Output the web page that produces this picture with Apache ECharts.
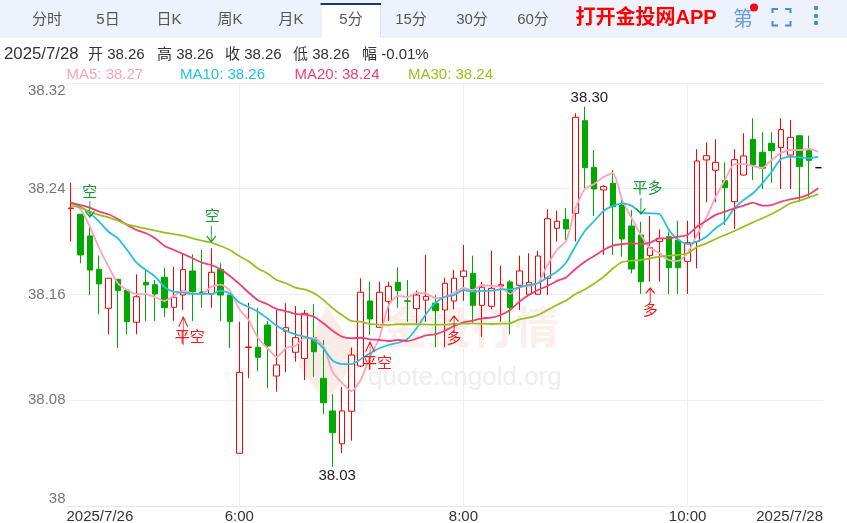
<!DOCTYPE html>
<html><head><meta charset="utf-8">
<style>html,body{margin:0;padding:0;background:#fff}#c{width:847px;height:523px}</style>
<script src="https://cdn.jsdelivr.net/npm/echarts@6/dist/echarts.min.js"></script>
</head><body><div id="c"></div>
<script>
const startHour = 4.5;
const opens = [38.2250,38.2207,38.2043,38.1791,38.1496,38.1715,38.1634,38.1390,38.1692,38.1674,38.1730,38.1503,38.1596,38.1778,38.1619,38.1604,38.1791,38.1596,38.0399,38.1199,38.1201,38.1369,38.0983,38.1322,38.1163,38.1117,38.1273,38.0966,38.0719,38.0471,38.0717,38.1059,38.1551,38.1352,38.1549,38.1692,38.1552,38.1493,38.1558,38.1534,38.1483,38.1551,38.1735,38.1760,38.1518,38.1511,38.1664,38.1695,38.1670,38.1602,38.1602,38.1723,38.2101,38.2169,38.2214,38.2915,38.2562,38.2391,38.2441,38.2277,38.2118,38.2050,38.1894,38.2000,38.2037,38.2012,38.1851,38.2000,38.2618,38.2540,38.2461,38.2302,38.2504,38.2774,38.2676,38.2744,38.2711,38.2655,38.2801,38.2688,38.2559];
const closes = [38.2254,38.1899,38.1785,38.1680,38.1723,38.1629,38.1394,38.1583,38.1672,38.1604,38.1500,38.1579,38.1788,38.1621,38.1608,38.1768,38.1596,38.1394,38.1011,38.1203,38.1125,38.1211,38.1067,38.1349,38.1273,38.1458,38.1167,38.0781,38.0554,38.0719,38.1142,38.1617,38.1415,38.1617,38.1662,38.1629,38.1549,38.1596,38.1586,38.1478,38.1685,38.1723,38.1778,38.1518,38.1655,38.1647,38.1674,38.1500,38.1778,38.1692,38.1891,38.2173,38.2154,38.2096,38.2941,38.2559,38.2398,38.2416,38.2264,38.2020,38.1793,38.1697,38.1954,38.2025,38.1803,38.1803,38.1992,38.2610,38.2650,38.2600,38.2408,38.2620,38.2648,38.2580,38.2555,38.2688,38.2847,38.2789,38.2567,38.2615,38.2559];
const lows = [38.2000,38.1836,38.1596,38.1450,38.1299,38.1195,38.1299,38.1299,38.1400,38.1400,38.1430,38.1400,38.1483,38.1400,38.1500,38.1500,38.1400,38.1195,38.0397,38.0966,38.1019,38.0890,38.0865,38.1012,38.1092,38.0953,38.0978,38.0696,38.0297,38.0399,38.0494,38.1052,38.1294,38.1347,38.1400,38.1500,38.1394,38.1377,38.1394,38.1201,38.1201,38.1488,38.1553,38.1387,38.1281,38.1488,38.1394,38.1299,38.1483,38.1596,38.1596,38.1596,38.2000,38.2012,38.2000,38.2403,38.2194,38.1899,38.1899,38.1886,38.1760,38.1604,38.1697,38.1697,38.1604,38.1604,38.1604,38.1798,38.2298,38.2298,38.2126,38.2096,38.2500,38.2466,38.2396,38.2446,38.2398,38.2398,38.2302,38.2328,38.2559];
const highs = [38.2446,38.2209,38.2126,38.1894,38.1725,38.1717,38.1634,38.1753,38.1793,38.1710,38.1803,38.1810,38.1912,38.1904,38.1937,38.1950,38.1836,38.1596,38.1394,38.1538,38.1496,38.1400,38.1490,38.1534,38.1513,38.1483,38.1526,38.1256,38.0845,38.0900,38.1198,38.1723,38.1697,38.1697,38.1697,38.1806,38.1710,38.1629,38.1899,38.1596,38.1727,38.1785,38.1975,38.1894,38.1697,38.1931,38.1818,38.1710,38.1894,38.1912,38.1931,38.2245,38.2234,38.2254,38.2971,38.3021,38.2693,38.2428,38.2542,38.2315,38.2239,38.2151,38.2194,38.2093,38.2075,38.2158,38.2158,38.2699,38.2751,38.2774,38.2600,38.2699,38.2820,38.2933,38.2827,38.2827,38.2933,38.2920,38.2807,38.2801,38.2559];
const ma5 = [38.2298,38.2245,38.2113,38.1950,38.1810,38.1685,38.1634,38.1602,38.1602,38.1579,38.1551,38.1589,38.1627,38.1609,38.1604,38.1659,38.1674,38.1629,38.1490,38.1407,38.1271,38.1195,38.1127,38.1195,38.1211,38.1271,38.1271,38.1211,38.1014,38.0931,38.0870,38.0953,38.1127,38.1271,38.1521,38.1589,38.1581,38.1612,38.1608,38.1574,38.1581,38.1612,38.1649,38.1634,38.1672,38.1664,38.1657,38.1604,38.1657,38.1664,38.1687,38.1823,38.1937,38.2005,38.2254,38.2398,38.2436,38.2489,38.2519,38.2315,38.2179,38.2050,38.1952,38.1914,38.1861,38.1854,38.1914,38.2050,38.2179,38.2338,38.2466,38.2587,38.2587,38.2572,38.2557,38.2618,38.2671,38.2693,38.2693,38.2701,38.2678];
const ma10 = [38.2298,38.2264,38.2214,38.2151,38.2075,38.2025,38.1937,38.1841,38.1785,38.1735,38.1655,38.1621,38.1614,38.1604,38.1604,38.1604,38.1629,38.1608,38.1540,38.1506,38.1470,38.1420,38.1364,38.1326,38.1299,38.1281,38.1256,38.1193,38.1099,38.1074,38.1074,38.1110,38.1155,38.1193,38.1218,38.1235,38.1263,38.1347,38.1453,38.1536,38.1583,38.1596,38.1634,38.1621,38.1627,38.1629,38.1639,38.1639,38.1655,38.1672,38.1685,38.1730,38.1773,38.1842,38.1967,38.2080,38.2156,38.2232,38.2270,38.2290,38.2272,38.2219,38.2214,38.2209,38.2088,38.2012,38.1982,38.2000,38.2037,38.2101,38.2151,38.2252,38.2315,38.2366,38.2441,38.2529,38.2625,38.2643,38.2638,38.2630,38.2643];
const ma20 = [38.2290,38.2277,38.2257,38.2227,38.2207,38.2171,38.2126,38.2088,38.2063,38.2025,38.1967,38.1937,38.1906,38.1874,38.1841,38.1823,38.1791,38.1740,38.1680,38.1615,38.1556,38.1526,38.1490,38.1475,38.1453,38.1447,38.1432,38.1382,38.1326,38.1281,38.1269,38.1273,38.1261,38.1256,38.1248,38.1256,38.1248,38.1266,38.1290,38.1299,38.1326,38.1362,38.1390,38.1402,38.1420,38.1425,38.1445,38.1483,38.1546,38.1596,38.1634,38.1664,38.1702,38.1729,38.1793,38.1848,38.1891,38.1937,38.1969,38.1982,38.1987,38.1982,38.1992,38.2025,38.2025,38.2037,38.2050,38.2113,38.2158,38.2202,38.2227,38.2252,38.2272,38.2295,38.2272,38.2277,38.2302,38.2320,38.2332,38.2358,38.2403];
const ma30 = [38.2270,38.2257,38.2227,38.2202,38.2184,38.2158,38.2131,38.2113,38.2098,38.2083,38.2068,38.2056,38.2045,38.2025,38.2007,38.1992,38.1967,38.1937,38.1891,38.1851,38.1797,38.1760,38.1710,38.1685,38.1652,38.1639,38.1609,38.1559,38.1496,38.1445,38.1400,38.1394,38.1377,38.1372,38.1369,38.1375,38.1375,38.1375,38.1373,38.1372,38.1372,38.1377,38.1379,38.1382,38.1379,38.1377,38.1379,38.1382,38.1412,38.1425,38.1445,38.1483,38.1521,38.1555,38.1604,38.1638,38.1683,38.1733,38.1797,38.1846,38.1856,38.1861,38.1874,38.1886,38.1894,38.1899,38.1912,38.1959,38.1987,38.2020,38.2050,38.2080,38.2113,38.2146,38.2177,38.2209,38.2247,38.2290,38.2310,38.2335,38.2360];
const yTicks = ['38','38.08','38.16','38.24','38.32'];
const timeTicks = ['6:00','8:00','10:00'];
const dateTicks = ['2025/7/26','2025/7/28'];
const tabs = ['分时','5日','日K','周K','月K','5分','15分','30分','60分'];
const tabX = [47,108,169,230,291,351,411,472,533];
const infoTexts = ['2025/7/28','开 38.26','高 38.26','收 38.26','低 38.26','幅 -0.01%'];
const infoX = [4,88,157,225,293,362];
const maNames = ['MA5','MA10','MA20','MA30'];
const maLatest = ['38.27','38.26','38.24','38.24'];
const maColors = ['#ffa2bc','#27c0df','#ee3f78','#9cbf1f'];
const maLegendX = [66.5,180,294.5,408];
const RED = '#ff0000', GREEN = '#00a800', SIG_GREEN = '#149a2e', SIG_RED = '#f01818';
/* signal annotations: bar index, price at arrow centre, text */
const sigIdx   = [2,15,12,32,41,61,62];
const sigPrice = [38.2247,38.2060,38.1324,38.1135,38.1377,38.2270,38.1592];
const sigText  = ['空','空','平空','平空','多','平多','多'];
const sigDir   = ['d','d','u','u','u','d','u'];
const extIdx = [55,28], extPrice = [38.3021,38.0297], extText = ['38.30','38.03'];

const FONT = '"Liberation Sans","Noto Sans CJK SC",sans-serif';
const categories = opens.map((_, i) => {
  const t = startHour*60 + 5*i, h = Math.floor(t/60), m = t%60;
  return h + ':' + String(m).padStart(2,'0');
});
const candles = opens.map((o,i)=>[o,closes[i],lows[i],highs[i]]);

const arrowDown = 'path://M5 0L5 20M0 13L5 20L10 13';
const arrowUp   = 'path://M5 20L5 0M0 7L5 0L10 7';
const sigOffsets = [[0,-16.5],[1,-16.5],[6.5,7],[7,8],[0,15],[6.5,-17],[0,15.5]];
const sigSize = [[9,16],[9,16],[9,28],[9,28],[9,16],[9,16],[9,15]];
const markData = sigIdx.map((ix,k)=>{
  const col = sigDir[k]==='d' ? SIG_GREEN : SIG_RED;
  return {
    coord:[categories[ix],sigPrice[k]],
    symbol: sigDir[k]==='d'?arrowDown:arrowUp,
    symbolSize: sigSize[k],
    itemStyle:{color:'transparent',borderColor:col,borderWidth:1.2},
    label:{show:true,formatter:sigText[k],position:'inside',offset:sigOffsets[k],color:col,fontSize:15,fontFamily:FONT}
  };
}).concat(extIdx.map((ix,k)=>({
  coord:[categories[ix],extPrice[k]],
  symbol:'circle',symbolSize:1,
  itemStyle:{color:'transparent'},
  label:{show:true,formatter:extText[k],position:'inside',offset:[4.5,k===0?-9:9.5],color:'#222',fontSize:15,fontFamily:FONT}
})));

function T(x,y,text,fill,font,align,z){
  return {type:'text',x,y,z:z||5,silent:true,style:{text,fill,font:font||('15px '+FONT),textAlign:align||'left',textVerticalAlign:'middle'}};
}
const graphics = [
  {type:'rect',z:3,silent:true,shape:{x:0,y:0,width:847,height:36.5},style:{fill:'#edf2fc'}},
  {type:'rect',z:3,silent:true,shape:{x:0,y:36.5,width:847,height:1},style:{fill:'#dbe3f2'}},
  {type:'rect',z:4,silent:true,shape:{x:320.5,y:3,width:60.5,height:35},style:{fill:'#fff'}},
  {type:'rect',z:4,silent:true,shape:{x:320.5,y:3,width:60.5,height:2},style:{fill:'#16348c'}},
  {type:'rect',z:4,silent:true,shape:{x:320.5,y:5,width:1,height:32},style:{fill:'#dbe3f2'}},
  {type:'rect',z:4,silent:true,shape:{x:380,y:5,width:1,height:32},style:{fill:'#dbe3f2'}},
];
tabs.forEach((t,i)=>graphics.push(T(tabX[i],20,t,'#555','15px '+FONT,'center')));
graphics.push(T(575.5,18,'打开金投网APP','#ff0000','bold 20px '+FONT));
graphics.push(T(743,18,'第','#6e9bd6','20px "Noto Sans CJK SC"','center'));
graphics.push({type:'circle',z:6,silent:true,shape:{cx:754,cy:7.5,r:4},style:{fill:'#f00a14'}});
const bc='#4a8bdc';
[[[772.5,13],[772.5,9],[778,9]],[[785,9],[790.5,9],[790.5,13]],[[772.5,21],[772.5,25.5],[778,25.5]],[[785,25.5],[790.5,25.5],[790.5,21]]].forEach(p=>
  graphics.push({type:'polyline',z:6,silent:true,shape:{points:p},style:{stroke:bc,lineWidth:2,fill:'none'}}));
[8,16,23].forEach(y=>graphics.push({type:'rect',z:6,silent:true,shape:{x:814,y:y-2,width:4,height:4,r:1},style:{fill:bc}}));
infoTexts.forEach((t,i)=>graphics.push(T(infoX[i],54.5,t,'#333',i===0?('16.8px '+FONT):undefined)));
maNames.forEach((n,i)=>graphics.push(T(maLegendX[i],75,n+': '+maLatest[i],maColors[i])));
graphics.push({type:'polygon',z:1,silent:true,shape:{points:[[327,306],[358,355],[327,404],[298,365]]},style:{fill:'#fcece8'}});
graphics.push(T(383,327,'金投行情','#fcefeb','bold 44px "Noto Sans CJK SC"','left',1));
graphics.push(T(368,378,'quote.cngold.org','#eeeeee','26px '+FONT,'left',1));

const isTimeTick = (i,v)=>timeTicks.includes(v);
const chart = echarts.init(document.getElementById('c'));
chart.setOption({
  animation:false,
  backgroundColor:'#fff',
  graphic:graphics,
  grid:{left:66.5,right:24,top:83,bottom:17,containLabel:false,outerBoundsMode:'none'},
  xAxis:[{
    type:'category',data:categories,
    axisLine:{show:true,lineStyle:{color:'#e8e8e8',width:1}},axisTick:{show:false,alignWithLabel:true},
    splitLine:{show:true,alignWithLabel:true,interval:isTimeTick,lineStyle:{color:'#eeeeee',width:1}},
    axisLabel:{interval:isTimeTick,hideOverlap:false,color:'#333',fontSize:15,fontFamily:FONT,margin:3}
  },{
    type:'category',data:dateTicks,boundaryGap:false,position:'bottom',
    axisLine:{show:false},axisTick:{show:false},splitLine:{show:false},
    axisLabel:{interval:0,color:'#333',fontSize:15,fontFamily:FONT,margin:3,alignMinLabel:'left',alignMaxLabel:'right'}
  }],
  yAxis:{
    type:'value',min:38,max:38.32,interval:0.08,scale:true,
    axisLine:{show:false},axisTick:{show:false},
    splitLine:{show:true,lineStyle:{color:'#eeeeee',width:1}},
    axisLabel:{formatter:(v,i)=>yTicks[i],color:'#777',fontSize:15,fontFamily:FONT,margin:1,verticalAlignMinLabel:'bottom',verticalAlignMaxLabel:'top'}
  },
  series:[{
    type:'candlestick',data:candles,barWidth:6,z:2,
    itemStyle:{color:'#ffffff',color0:GREEN,borderColor:RED,borderColor0:GREEN,borderColorDoji:'#000',borderWidth:1},
    markPoint:{z:8,silent:true,animation:false,data:markData}
  }].concat([ma5,ma10,ma20,ma30].map((d,i)=>({
    type:'line',name:maNames[i],data:d,showSymbol:false,symbol:'none',smooth:0.2,z:3+i,
    lineStyle:{color:maColors[i],width:1.8},itemStyle:{color:maColors[i]}
  })))
});
</script></body></html>
